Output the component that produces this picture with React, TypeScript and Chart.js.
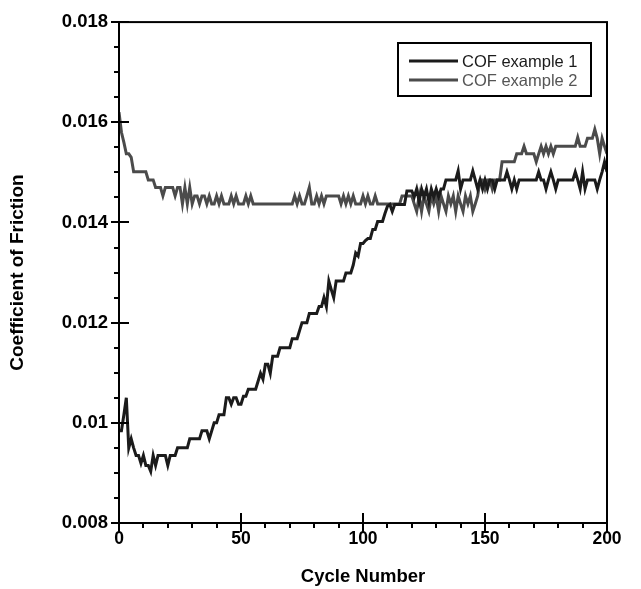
import React, { useEffect, useRef } from "react";
import { Chart, registerables } from "chart.js";

Chart.register(...registerables);

const seriesNames = ["COF example 1", "COF example 2"];

const cof1 = [
  0.00984, 0.00984, 0.01016, 0.0105, 0.0095, 0.00968, 0.0095, 0.00935, 0.00935, 0.00919,
  0.00935, 0.00915, 0.00915, 0.00903, 0.00935, 0.00915, 0.00935, 0.00935, 0.00935, 0.00935,
  0.00915, 0.00935, 0.00935, 0.00935, 0.0095, 0.0095, 0.0095, 0.0095, 0.0095, 0.00968,
  0.00968, 0.00968, 0.00968, 0.00968, 0.00984, 0.00984, 0.00984, 0.00968, 0.00984, 0.01,
  0.01, 0.01016, 0.01016, 0.01016, 0.0105, 0.0105, 0.01037, 0.0105, 0.0105, 0.01037,
  0.01037, 0.01053, 0.01053, 0.01067, 0.01067, 0.01067, 0.01067, 0.01083, 0.01099, 0.01087,
  0.01117, 0.01117, 0.01099, 0.01133, 0.01133, 0.01133, 0.0115, 0.0115, 0.0115, 0.0115,
  0.0115, 0.01168, 0.01168, 0.01168, 0.01184, 0.012, 0.012, 0.012, 0.01218, 0.01218,
  0.01218, 0.01218, 0.01232, 0.01232, 0.0125, 0.01232, 0.01283, 0.01266, 0.0125, 0.01283,
  0.01283, 0.01283, 0.01283, 0.01299, 0.01299, 0.01299, 0.01315, 0.01339, 0.01333, 0.01358,
  0.01358, 0.01364, 0.01368, 0.01368, 0.01386, 0.01386, 0.01402, 0.01402, 0.01402, 0.01418,
  0.01432, 0.01436, 0.01422, 0.01436, 0.01436, 0.01436, 0.01436, 0.01436, 0.01463, 0.01463,
  0.01463, 0.01451, 0.01467, 0.01442, 0.01467, 0.01451, 0.01467, 0.01442, 0.01467, 0.01451,
  0.01467, 0.01451, 0.01467, 0.01467, 0.01485, 0.01485, 0.01485, 0.01485, 0.01485, 0.01503,
  0.01467, 0.01485, 0.01485, 0.01485, 0.01485, 0.01503, 0.01485, 0.01467, 0.01485, 0.01467,
  0.01485, 0.01467, 0.01485, 0.01485, 0.01467, 0.01485, 0.01485, 0.01485, 0.01485, 0.01501,
  0.01485, 0.01467, 0.01485, 0.01467, 0.01485, 0.01485, 0.01485, 0.01485, 0.01485, 0.01485,
  0.01485, 0.01485, 0.01501, 0.01485, 0.01485, 0.01467, 0.01485, 0.01501, 0.01485, 0.01467,
  0.01485, 0.01485, 0.01485, 0.01485, 0.01485, 0.01485, 0.01485, 0.01501, 0.01485, 0.01467,
  0.01501, 0.01467, 0.01485, 0.01485, 0.01485, 0.01485, 0.01467, 0.01485, 0.01501, 0.01521,
  0.01501,
];

const cof2 = [
  0.0162, 0.0158, 0.0156, 0.01537, 0.01537, 0.0153, 0.01501, 0.01501, 0.01501, 0.01501,
  0.01501, 0.01501, 0.01485, 0.01485, 0.01485, 0.0147, 0.0147, 0.0147, 0.01453, 0.0147,
  0.0147, 0.0147, 0.0147, 0.01453, 0.0147, 0.0147, 0.01437, 0.0147, 0.01437, 0.0147,
  0.01437, 0.01453, 0.01453, 0.01437, 0.01453, 0.01453, 0.01437, 0.01453, 0.01437, 0.01437,
  0.01453, 0.01437, 0.01453, 0.01437, 0.01437, 0.01437, 0.01453, 0.01437, 0.01453, 0.01437,
  0.01437, 0.01437, 0.01453, 0.01437, 0.01453, 0.01437, 0.01437, 0.01437, 0.01437, 0.01437,
  0.01437, 0.01437, 0.01437, 0.01437, 0.01437, 0.01437, 0.01437, 0.01437, 0.01437, 0.01437,
  0.01437, 0.01437, 0.01453, 0.01437, 0.01453, 0.01437, 0.01437, 0.01453, 0.0147, 0.01437,
  0.01437, 0.01453, 0.01437, 0.01453, 0.01437, 0.01453, 0.01453, 0.01453, 0.01453, 0.01453,
  0.01453, 0.01437, 0.01453, 0.01437, 0.01453, 0.01437, 0.01453, 0.01437, 0.01437, 0.01437,
  0.01453, 0.01437, 0.01453, 0.01437, 0.01437, 0.01453, 0.01437, 0.01437, 0.01437, 0.01437,
  0.01437, 0.01437, 0.01437, 0.01437, 0.01437, 0.01437, 0.01453, 0.01453, 0.01453, 0.01453,
  0.01453, 0.01437, 0.01422, 0.01453, 0.01422, 0.01453, 0.01437, 0.01422, 0.01453, 0.01437,
  0.01453, 0.01422, 0.01453, 0.01437, 0.01422, 0.01453, 0.01437, 0.01453, 0.01422, 0.01453,
  0.01437, 0.01422, 0.01453, 0.01437, 0.01453, 0.01422, 0.01437, 0.01453, 0.01485, 0.01485,
  0.01467, 0.01485, 0.01485, 0.01467, 0.01485, 0.01485, 0.01485, 0.01521, 0.01521, 0.01521,
  0.01521, 0.01521, 0.01521, 0.01537, 0.01537, 0.01537, 0.01552, 0.01537, 0.01537, 0.01537,
  0.01537, 0.01521, 0.01537, 0.01552, 0.01537, 0.01552, 0.01537, 0.01552, 0.01537, 0.01552,
  0.01552, 0.01552, 0.01552, 0.01552, 0.01552, 0.01552, 0.01552, 0.01552, 0.0157, 0.01552,
  0.01552, 0.01552, 0.01568, 0.01568, 0.01568, 0.01586, 0.01568, 0.01537, 0.01568, 0.01552,
  0.01537,
];

const cycles = cof1.map((_, i) => i);

const xTicks = [0, 50, 100, 150, 200];
const yTicks = [0.008, 0.01, 0.012, 0.014, 0.016, 0.018];

const FONT = "'Liberation Sans', Arial, Helvetica, sans-serif";
const colors = ["#1b1b1b", "#4b4b4b"];
const textColors = ["#1b1b1b", "#555555"];

const framePlugin = {
  id: "frameTicks",
  afterDatasetsDraw(chart: any) {
    const { ctx, chartArea, scales } = chart;
    const { left, right, top, bottom } = chartArea;
    ctx.save();
    ctx.strokeStyle = "#000";
    ctx.lineWidth = 2;
    ctx.strokeRect(left, top, right - left, bottom - top);
    const ys = scales.y;
    for (let v = 16; v <= 36; v++) {
      const val = v * 0.0005;
      const py = Math.round(ys.getPixelForValue(val));
      ctx.beginPath();
      if (v % 4 === 0) {
        ctx.moveTo(left - 8, py);
        ctx.lineTo(left + 10, py);
      } else {
        ctx.moveTo(left - 5, py);
        ctx.lineTo(left, py);
      }
      ctx.stroke();
    }
    const xs = scales.x;
    for (let v = 0; v <= 20; v++) {
      const px = Math.round(xs.getPixelForValue(v * 10));
      ctx.beginPath();
      if (v % 5 === 0) {
        ctx.moveTo(px, bottom + 9);
        ctx.lineTo(px, bottom - 10);
      } else {
        ctx.moveTo(px, bottom + 5);
        ctx.lineTo(px, bottom);
      }
      ctx.stroke();
    }
    ctx.restore();
  },
  afterDraw(chart: any) {
    const { ctx } = chart;
    ctx.save();
    ctx.fillStyle = "#fff";
    ctx.fillRect(398, 43, 193, 53);
    ctx.strokeStyle = "#000";
    ctx.lineWidth = 2;
    ctx.strokeRect(398, 43, 193, 53);
    chart.data.datasets.forEach((ds: any, i: number) => {
      const y = 61 + i * 19;
      ctx.strokeStyle = ds.borderColor;
      ctx.lineWidth = 3;
      ctx.beginPath();
      ctx.moveTo(409, y);
      ctx.lineTo(458, y);
      ctx.stroke();
      ctx.fillStyle = textColors[i];
      ctx.font = `16.5px ${FONT}`;
      ctx.textBaseline = "middle";
      ctx.textAlign = "left";
      ctx.fillText(ds.label, 462, y + 1);
    });
    ctx.restore();
  },
};

export default function App() {
  const ref = useRef<HTMLCanvasElement | null>(null);
  useEffect(() => {
    if (!ref.current) return;
    const chart = new Chart(ref.current, {
      type: "line",
      data: {
        datasets: [cof1, cof2].map((arr, i) => ({
          label: seriesNames[i],
          data: arr.map((y, k) => ({ x: cycles[k], y })),
          borderColor: colors[i],
          borderWidth: 3,
          pointRadius: 0,
          tension: 0,
          fill: false,
        })),
      },
      options: {
        responsive: false,
        animation: false,
        devicePixelRatio: 1,
        layout: { padding: { left: 0, top: 17, right: 34, bottom: 0 } },
        plugins: { legend: { display: false }, tooltip: { enabled: false } },
        scales: {
          x: {
            type: "linear",
            min: 0,
            max: 200,
            afterFit: (s: any) => {
              s.height = 66;
            },
            afterBuildTicks: (s: any) => {
              s.ticks = xTicks.map((v) => ({ value: v }));
            },
            grid: { display: false, drawTicks: false },
            border: { display: false },
            ticks: {
              color: "#000",
              font: { family: FONT, size: 17.5, weight: "bold" },
              padding: 6,
              maxRotation: 0,
              callback: (v: any) => String(v),
            },
            title: {
              display: true,
              text: "Cycle Number",
              color: "#000",
              font: { family: FONT, size: 18.5, weight: "bold" },
              padding: { top: 0, bottom: 1 },
            },
          },
          y: {
            type: "linear",
            min: 0.008,
            max: 0.018,
            afterFit: (s: any) => {
              s.width = 119;
            },
            afterBuildTicks: (s: any) => {
              s.ticks = yTicks.map((v) => ({ value: v }));
            },
            grid: { display: false, drawTicks: false },
            border: { display: false },
            ticks: {
              color: "#000",
              font: { family: FONT, size: 18.5, weight: "bold" },
              padding: 11,
              callback: (v: any) => String(parseFloat(Number(v).toFixed(4))),
            },
            title: {
              display: true,
              text: "Coefficient of Friction",
              color: "#000",
              font: { family: FONT, size: 19, weight: "bold" },
              padding: { top: 6, bottom: 0 },
            },
          },
        },
      },
      plugins: [framePlugin],
    });
    return () => chart.destroy();
  }, []);
  return (
    <div style={{ position: "fixed", left: 0, top: 0, width: 641, height: 589, background: "#fff" }}>
      <canvas ref={ref} width={641} height={589} style={{ display: "block" }} />
    </div>
  );
}
